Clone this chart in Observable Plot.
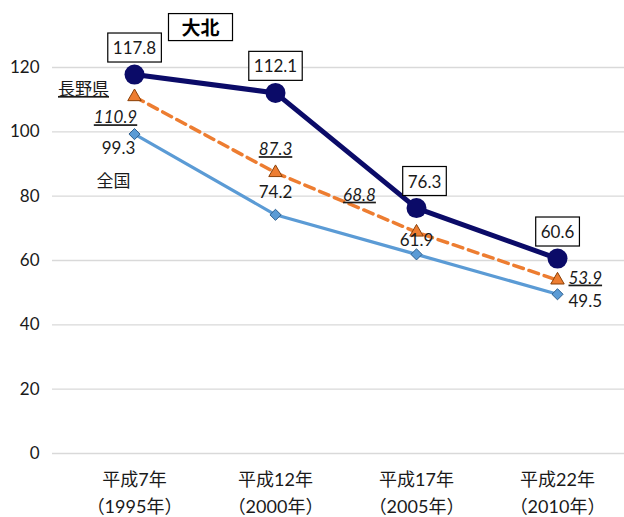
<!DOCTYPE html>
<html>
<head>
<meta charset="utf-8">
<script src="https://cdn.jsdelivr.net/npm/d3@7"></script>
<script src="https://cdn.jsdelivr.net/npm/@observablehq/plot@0.6"></script>
<style>
  body { margin: 0; background: #fff; }
</style>
</head>
<body>
<div id="chart"></div>
<script>
const years = ["平成7年", "平成12年", "平成17年", "平成22年"];
const westernYears = ["（1995年）", "（2000年）", "（2005年）", "（2010年）"];
const seriesNames = ["大北", "長野県", "全国"];
const daihoku = [117.8, 112.1, 76.3, 60.6];
const nagano = [110.9, 87.3, 68.8, 53.9];
const zenkoku = [99.3, 74.2, 61.9, 49.5];
const yTicks = [0, 20, 40, 60, 80, 100, 120];

const font = "Lato, 'Noto Sans CJK JP', sans-serif";
const navy = "#0b0b68", orange = "#ed7d31", blue = "#5b9bd5";

const xy = values => ({ x: (d, i) => years[i], y: d => d });

function pointLabels(values, offsets, options) {
  return offsets.map(([dx, dy, anchor], i) =>
    Plot.text([i], {
      x: j => years[j],
      y: j => values[j],
      text: j => values[j].toFixed(1),
      dx, dy,
      textAnchor: anchor || "middle",
      fontSize: 17,
      fill: "#1a1a1a",
      ...options
    })
  );
}

const chart = Plot.plot({
  width: 624,
  height: 517,
  marginLeft: 52,
  marginRight: 0,
  marginTop: 67,
  marginBottom: 64,
  style: { fontFamily: font, fontSize: "16px", color: "#1a1a1a", background: "#fff" },
  x: { type: "point", domain: years, range: [133, 557], padding: 0 },
  y: { domain: [0, 120] },
  marks: [
    Plot.ruleY(yTicks, { stroke: "#d9d9d9", strokeWidth: 1.3 }),
    Plot.axisY({ ticks: yTicks, tickSize: 0, tickPadding: 13, fontSize: 17, label: null, fill: "#1a1a1a" }),
    Plot.axisX({
      tickSize: 0, tickPadding: 13, lineHeight: 1.5, fontSize: 18, label: null, fill: "#1a1a1a",
      tickFormat: d => d + "\n" + westernYears[years.indexOf(d)]
    }),
    Plot.line(zenkoku, { ...xy(zenkoku), stroke: blue, strokeWidth: 3.2 }),
    Plot.dot(zenkoku, { ...xy(zenkoku), symbol: "diamond2", r: 5, fill: blue, stroke: "#2e5f8e", strokeWidth: 1 }),
    Plot.line(nagano, { ...xy(nagano), stroke: orange, strokeWidth: 3.5, strokeDasharray: "10,6" }),
    Plot.dot(nagano, { ...xy(nagano), symbol: "triangle", r: 5, fill: orange, stroke: "#8a4008", strokeWidth: 1 }),
    Plot.line(daihoku, { ...xy(daihoku), stroke: navy, strokeWidth: 5 }),
    Plot.dot(daihoku, { ...xy(daihoku), r: 10, fill: navy }),
    ...pointLabels(zenkoku, [[-16, 14], [0, -22], [0, -14], [11, 7, "start"]], {}),
    ...pointLabels(nagano, [[-19, 21], [0, -23], [-57, -37], [11, -2, "start"]], { fontStyle: "italic", ariaDescription: "underlined" }),
    ...pointLabels(daihoku, [[0, -26], [0, -26], [8, -26], [0, -26]], { ariaDescription: "boxed" }),
    Plot.text([seriesNames[0]], {
      frameAnchor: "top-left", dx: 148, dy: -39, text: d => d,
      textAnchor: "middle", lineAnchor: "middle", fontWeight: "bold", fontSize: 19,
      fill: "#000", ariaDescription: "title-box"
    }),
    Plot.text([seriesNames[1]], {
      frameAnchor: "top-left", dx: 31, dy: 22, text: d => d,
      textAnchor: "middle", lineAnchor: "middle", fontSize: 17, fill: "#1a1a1a", ariaDescription: "underlined"
    }),
    Plot.text([seriesNames[2]], {
      frameAnchor: "top-left", dx: 61, dy: 114, text: d => d,
      textAnchor: "middle", lineAnchor: "middle", fontSize: 17, fill: "#1a1a1a"
    })
  ]
});

document.getElementById("chart").append(chart);

function boxText(desc, padX, padY) {
  chart.querySelectorAll('g[aria-description="' + desc + '"] text').forEach(t => {
    const b = t.getBBox();
    const r = document.createElementNS("http://www.w3.org/2000/svg", "rect");
    r.setAttribute("x", b.x - padX);
    r.setAttribute("y", b.y - padY);
    r.setAttribute("width", b.width + 2 * padX);
    r.setAttribute("height", b.height + 2 * padY);
    r.setAttribute("fill", "#fff");
    r.setAttribute("stroke", "#000");
    r.setAttribute("stroke-width", "1.2");
    const tr = t.getAttribute("transform");
    if (tr) r.setAttribute("transform", tr);
    t.parentNode.insertBefore(r, t);
  });
}
boxText("boxed", 5, 4);
boxText("title-box", 13, 2);
chart.querySelectorAll('g[aria-description="underlined"] text').forEach(t => {
  t.setAttribute("text-decoration", "underline");
});
</script>
</body>
</html>
